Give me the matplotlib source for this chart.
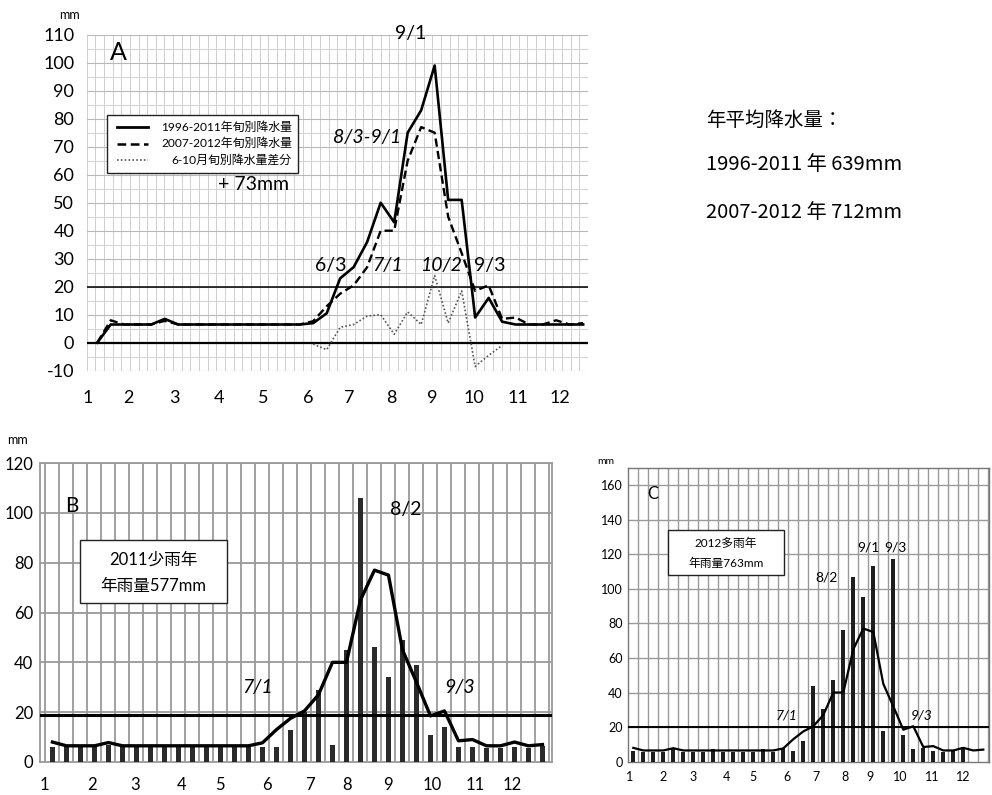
import matplotlib
matplotlib.use("Agg")
import matplotlib.pyplot as plt
import numpy as np
from matplotlib.patches import Rectangle
from matplotlib.lines import Line2D

plt.rcParams['font.family'] = ['Lato', 'Noto Sans CJK JP', 'DejaVu Sans']
plt.rcParams['axes.unicode_minus'] = False

W, H = 992, 795

# ---------------- data ----------------
# dekad index: 0 = Jan/1 ... 35 = Dec/3 ; panel A starts with an extra 0 point at -1
dekads_A = list(range(-1, 36))
rain_1996_2011 = [0, 6.5, 6.5, 6.5, 6.5, 8.5, 6.5, 6.5, 6.5, 6.5, 6.5, 6.5, 6.5, 6.5, 6.5, 6.5,
                  7, 10.5, 23, 27, 36, 50, 43, 75, 83, 99, 51, 51, 9, 16, 7.5,
                  6.5, 6.5, 6.5, 6.5, 6.5, 6.5]
rain_2007_2012 = [0, 8, 6.5, 6.5, 6.5, 7.8, 6.5, 6.5, 6.5, 6.5, 6.5, 6.5, 6.5, 6.5, 6.5, 6.5,
                  7.7, 13, 17.5, 20.5, 27, 40, 40, 65, 77, 75, 45, 32, 18.5, 20.5, 8.5,
                  9, 6.5, 6.5, 8, 6.5, 7]
dekads_diff = list(range(15, 30))
rain_diff = [-0.5, -2.5, 5.5, 6.5, 9.5, 10, 3, 11, 6.5, 24, 7, 18.5, -8.5, -4.5, -1]

dekads = list(range(0, 36))
bars_2011 = [6, 6, 6, 6, 7, 6, 6, 6, 6, 6, 6, 6, 6, 6, 6, 6, 6, 13, 20, 29, 7, 45, 106, 46,
             34, 49, 39, 11, 14, 6, 6, 5.5, 5.5, 6, 5.5, 6.5]
bars_2012 = [6.3, 5.8, 5.8, 5.8, 7.3, 5.8, 5.8, 5.8, 7.3, 5.8, 5.8, 5.8, 5.8, 7.3, 5.8, 7.7,
             6.3, 12, 43.5, 30.5, 47, 76, 107, 95, 113, 17.5, 117, 15.5, 7.3, 7.7, 6.3, 5.8,
             6.3, 8.5, np.nan, np.nan]

month_labels = ['1', '2', '3', '4', '5', '6', '7', '8', '9', '10', '11', '12']
month_pos_A = [-1.67, 1.3, 4.7, 8.0, 11.3, 14.6, 17.7, 20.8, 23.8, 26.9, 30.2, 33.3]
month_pos_B = [-0.54, 2.82, 5.89, 9.25, 11.96, 15.32, 18.39, 21.04, 23.96, 27.1, 30.18, 32.82]
month_pos_C = [-0.33, 2.94, 6.0, 9.34, 12.0, 15.4, 18.3, 21.2, 23.7, 26.7, 29.9, 33.0]

# ---------------- figure ----------------
fig = plt.figure(figsize=(W / 100, H / 100), dpi=100)


def fpos(x, y):
    return x / W, 1 - y / H


def axrect(l, t, r, b):
    return [l / W, 1 - b / H, (r - l) / W, (b - t) / H]


def ftext(x, y, s, size, **kw):
    fx, fy = fpos(x, y)
    fig.text(fx, fy, s, fontsize=size, ha=kw.pop('ha', 'center'), va=kw.pop('va', 'center'), **kw)


def fbox(l, t, r, b, lw=1.0):
    fig.patches.append(Rectangle((l / W, 1 - b / H), (r - l) / W, (b - t) / H,
                                 transform=fig.transFigure, fill=True, facecolor='white',
                                 edgecolor='#222222', lw=lw, zorder=5))


# ---------------- panel A ----------------
axA = fig.add_axes(axrect(86.7, 34.7, 588, 370.7))
axA.set_xlim(-1.78, 35.36)
axA.set_ylim(-10, 110)
x0, x1 = axA.get_xlim()
for gx in np.linspace(x0, x1, 59):
    axA.axvline(gx, color='#cfcfcf', lw=0.7, zorder=0)
for gy in np.arange(-10, 111, 5):
    axA.axhline(gy, color='#b8b8b8' if gy % 10 == 0 else '#d6d6d6', lw=0.8, zorder=0)
axA.axhline(0, color='black', lw=1.6, zorder=2)
axA.axhline(20, color='black', lw=1.1, zorder=2)
axA.plot(dekads_A, rain_1996_2011, color='black', lw=1.9, zorder=4)
axA.plot(dekads_A, rain_2007_2012, color='black', lw=1.7, ls=(0, (3.5, 1.8)), zorder=4)
axA.plot(dekads_diff, rain_diff, color='#555555', lw=1.2, ls=(0, (1, 1.3)), zorder=3)
for s in axA.spines.values():
    s.set_visible(False)
axA.set_yticks(np.arange(-10, 111, 10))
axA.set_xticks(month_pos_A)
axA.set_xticklabels(month_labels)
axA.tick_params(length=0, labelsize=13)
axA.tick_params(axis='y', pad=9)
axA.tick_params(axis='x', pad=14)

ftext(70, 15, 'mm', 9)
ftext(118, 53, 'A', 18)
ftext(411, 33, '9/1', 14)
ftext(367, 138, '8/3-9/1', 14, style='italic')
ftext(331, 266, '6/3', 14)
ftext(388, 266, '7/1', 14, style='italic')
ftext(441, 266, '10/2', 14, style='italic')
ftext(490, 266, '9/3', 14)
ftext(254, 185, '+ 73mm', 14)

# legend A
fbox(107.3, 115, 298.3, 173.3, lw=1.0)
legend_items = [('1996-2011年旬別降水量', '-', 2.0, 'black'),
                ('2007-2012年旬別降水量', (0, (3.5, 1.8)), 1.8, 'black'),
                ('6-10月旬別降水量差分', (0, (1, 1.3)), 1.2, '#555555')]
for k, (lab, ls, lw, col) in enumerate(legend_items):
    yy = 127 + k * 16.5
    fig.lines.append(Line2D([116.7 / W, 148.3 / W], [1 - yy / H, 1 - yy / H], transform=fig.transFigure,
                            color=col, lw=lw, ls=ls, zorder=6))
    ftext(292, yy, lab, 8.6, ha='right', zorder=6)

# right text
jp = ['Noto Sans CJK JP']
ftext(706, 120, '年平均降水量：', 14, ha='left', family=jp)
ftext(706, 165, '1996-2011 年 639mm', 14.5, ha='left', family=jp)
ftext(706, 212, '2007-2012 年 712mm', 14.5, ha='left', family=jp)

# ---------------- panel B ----------------
axB = fig.add_axes(axrect(40, 463, 552, 762))
axB.set_xlim(-0.89, 35.68)
axB.set_ylim(0, 120)
for gx in np.arange(-0.5, 36, 1):
    axB.axvline(gx, color='#9a9a9a', lw=1.3, zorder=0)
for gy in np.arange(20, 121, 20):
    axB.axhline(gy, color='#9a9a9a', lw=1.3, zorder=0)
axB.bar(dekads, bars_2011, width=0.38, color='#2a2a2a', zorder=3)
axB.plot(dekads, rain_2007_2012[1:], color='black', lw=2.4, zorder=4)
axB.axhline(19, color='black', lw=2.2, zorder=4)
for s in axB.spines.values():
    s.set_color('#9a9a9a')
    s.set_linewidth(1.3)
axB.set_yticks(np.arange(0, 121, 20))
axB.set_xticks(month_pos_B)
axB.set_xticklabels(month_labels)
axB.tick_params(length=0, labelsize=12)
axB.tick_params(axis='y', pad=5)
axB.tick_params(axis='x', pad=11)

ftext(18, 440, 'mm', 9)
ftext(72, 506, 'B', 15)
fbox(80, 540, 227, 603, lw=1.0)
ftext(153, 560, '2011少雨年', 12, zorder=6)
ftext(153, 586, '年雨量577mm', 12, zorder=6)
ftext(406, 510, '8/2', 14)
ftext(258, 688, '7/1', 14, style='italic')
ftext(460, 688, '9/3', 14, style='italic')

# ---------------- panel C ----------------
axC = fig.add_axes(axrect(628.3, 467.7, 989.3, 761.7))
axC.set_xlim(-0.5, 35.6)
axC.set_ylim(0, 170)
for gx in np.arange(0.5, 36, 1):
    axC.axvline(gx, color='#9a9a9a', lw=1.0, zorder=0)
for gy in np.arange(20, 161, 20):
    axC.axhline(gy, color='#9a9a9a', lw=1.0, zorder=0)
axC.bar(dekads, bars_2012, width=0.42, color='#1e1e1e', zorder=3)
axC.plot(dekads, rain_2007_2012[1:], color='black', lw=1.6, zorder=4)
axC.axhline(20, color='black', lw=1.4, zorder=4)
for s in axC.spines.values():
    s.set_color('#777777')
    s.set_linewidth(1.0)
axC.set_yticks(np.arange(0, 161, 20))
axC.set_xticks(month_pos_C)
axC.set_xticklabels(month_labels)
axC.tick_params(length=0, labelsize=9)
axC.tick_params(axis='y', pad=4)
axC.tick_params(axis='x', pad=7)

ftext(606, 462, 'mm', 7.5)
ftext(653, 494, 'C', 12)
fbox(668, 530, 784, 575, lw=1.0)
ftext(726, 543, '2012多雨年', 8.5, zorder=6)
ftext(726, 563, '年雨量763mm', 8.5, zorder=6)
ftext(827, 578, '8/2', 10)
ftext(868, 548, '9/1', 10)
ftext(895, 548, '9/3', 10)
ftext(787, 716, '7/1', 10, style='italic')
ftext(922, 716, '9/3', 10, style='italic')

fig.savefig('out.png', dpi=100)
